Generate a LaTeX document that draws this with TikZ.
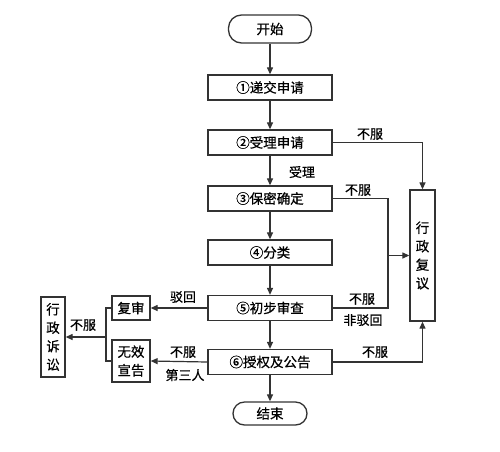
\documentclass[tikz,border=0pt]{standalone}
\usepackage{fontspec}
\setmainfont{Noto Sans CJK SC}[FakeBold=0.6]
\usetikzlibrary{arrows.meta}
\begin{document}
\begin{tikzpicture}[x=1pt,y=-1pt,
  ln/.style={draw=black!80, line width=1.2pt},
  arr/.style={ln, -{Triangle[length=7pt,width=6pt]}},
  box/.style={draw=black!80, line width=1.3pt, minimum width=124pt, minimum height=25pt, inner sep=0pt, font=\fontsize{13.5}{14}\selectfont},
  term/.style={box, rounded corners=13pt},
  small/.style={draw=black!80, line width=1.3pt, inner sep=0pt, align=center, font=\fontsize{13.5}{18.5}\selectfont},
  lab/.style={font=\fontsize{13}{14}\selectfont, inner sep=0pt}
]
\useasboundingbox (0,0) rectangle (500,451);
\node[term, minimum width=83pt, minimum height=28pt] (start) at (270,29) {开始};
\node[box] (s1) at (270,87.5) {①递交申请};
\node[box] (s2) at (270,142.5) {②受理申请};
\node[box] (s3) at (270,198.5) {③保密确定};
\node[box] (s4) at (270,252.5) {④分类};
\node[box] (s5) at (270,308) {⑤初步审查};
\node[box] (s6) at (270,362) {⑥授权及公告};
\node[term, minimum width=74pt, minimum height=23pt, rounded corners=11.5pt] (end) at (270,413.5) {结束};
\node[small, minimum width=25pt, minimum height=131pt] (fuyi) at (422.5,255.5) {行\\政\\复\\议};
\node[small, minimum width=38pt, minimum height=24pt] (fushen) at (131,308) {复审};
\node[small, minimum width=38pt, minimum height=42pt] (wuxiao) at (131,361) {无效\\宣告};
\node[small, minimum width=24pt, minimum height=80pt] (susong) at (53,337) {行\\政\\诉\\讼};
\coordinate (j) at (388,255.5);
\coordinate (k) at (106,337);
\draw[arr] (start) -- (s1);
\draw[arr] (s1) -- (s2);
\draw[arr] (s2) -- (s3);
\draw[arr] (s3) -- (s4);
\draw[arr] (s4) -- (s5);
\draw[arr] (s5) -- (s6);
\draw[arr] (s6) -- (end);
\draw[arr] (s2.east) -| (fuyi.north);
\draw[ln] (s3.east) -| (j);
\draw[ln] (s5.east) -| (j);
\draw[arr] (j) -- (fuyi.west);
\draw[arr] (s6.east) -| (fuyi.south);
\draw[arr] (s5.west) -- (fushen.east);
\draw[arr] (s6.west) -- (wuxiao.east);
\draw[ln] (fushen.west) -| (k);
\draw[ln] (wuxiao.west) -| (k);
\draw[arr] (k) -- (susong.east);
\node[lab] (l1) at (302,172) {受理};
\node[lab] (l2) at (370,134) {不服};
\node[lab] (l3) at (358,190) {不服};
\node[lab] (l4) at (362,299) {不服};
\node[lab] (l5) at (363,320) {非驳回};
\node[lab] (l6) at (375,352) {不服};
\node[lab] (l7) at (183,297) {驳回};
\node[lab] (l8) at (183,352) {不服};
\node[lab] (l9) at (185,375) {第三人};
\node[lab] (l10) at (83,325) {不服};
\end{tikzpicture}
\end{document}
